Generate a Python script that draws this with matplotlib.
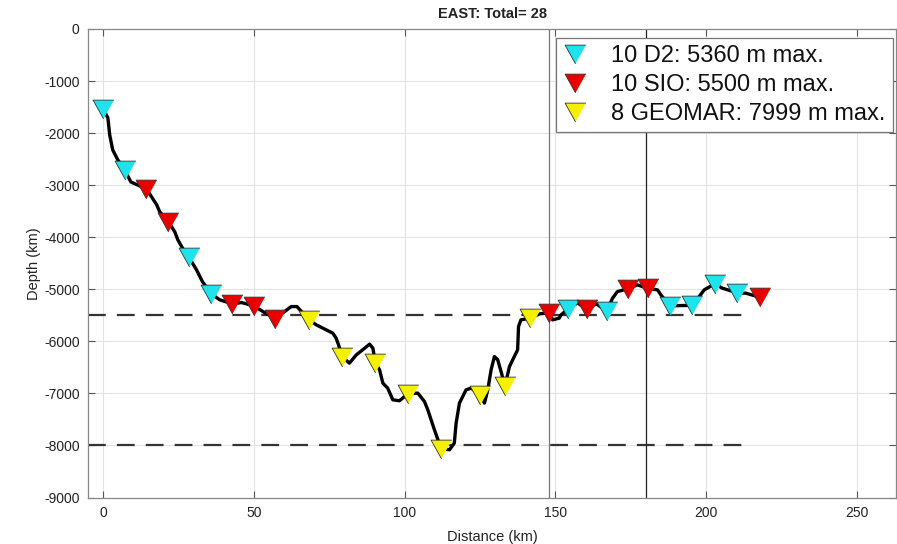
import matplotlib
matplotlib.use("Agg")
import matplotlib.pyplot as plt
from matplotlib.lines import Line2D

plt.rcParams['font.family'] = ['Liberation Sans', 'DejaVu Sans']
plt.rcParams['axes.unicode_minus'] = False

# Bathymetry profile (distance km, depth m)
prof_x = [0.2, 1.6, 2.2, 3.2, 4.9, 7.2, 9.2, 14.4, 17.8, 18.8, 21.5, 23.8, 24.8, 26.7, 28.4,
          31.0, 33.0, 35.9, 38.7, 42.9, 45.9, 49.9, 53.2, 57.1, 60.2, 62.4, 64.3, 68.3, 70.7,
          74.0, 76.2, 77.3, 78.1, 79.3, 81.7, 84.0, 86.1, 88.4, 89.5, 90.3, 91.7, 92.8, 94.4,
          96.1, 98.3, 101.1, 104.4, 106.6, 107.7, 108.8, 109.9, 112.1, 114.9, 116.5, 117.1,
          118.2, 120.4, 122.1, 125.1, 126.5, 127.6, 128.7, 129.8, 130.9, 132.0, 133.3, 134.8,
          136.4, 137.5, 137.8, 138.6, 141.7, 144.7, 148.0, 149.1, 151.3, 151.9, 154.3, 157.3,
          160.4, 163.6, 167.0, 169.0, 170.6, 174.0, 177.2, 180.6, 183.9, 185.0, 188.0, 191.6,
          195.5, 199.4, 202.9, 205.4, 210.4, 213.2, 217.9]
prof_y = [-1555, -1709, -2035, -2323, -2515, -2707, -2938, -3072, -3379, -3514, -3686, -3898,
          -4051, -4243, -4378, -4627, -4858, -5088, -5203, -5280, -5255, -5318, -5434, -5562,
          -5428, -5332, -5332, -5587, -5683, -5779, -5843, -5939, -6067, -6294, -6419, -6259,
          -6163, -6054, -6131, -6413, -6547, -6803, -6899, -7123, -7142, -7004, -6995, -7156,
          -7315, -7507, -7699, -8058, -8083, -7955, -7571, -7187, -6931, -6899, -7033, -7187,
          -6931, -6547, -6292, -6355, -6580, -6854, -6484, -6292, -6163, -5716, -5587, -5555,
          -5472, -5453, -5587, -5555, -5491, -5376, -5261, -5376, -5280, -5414, -5171, -5044,
          -4992, -4915, -4982, -5011, -5107, -5318, -5313, -5309, -5011, -4896, -4979, -5069,
          -5075, -5155]

# Instrument deployments
d2_x = [0.0, 7.2, 28.4, 35.9, 154.3, 167.0, 188.0, 195.5, 202.9, 210.4]
d2_y = [-1530, -2717, -4388, -5088, -5376, -5415, -5319, -5309, -4896, -5069]
sio_x = [14.4, 21.5, 42.9, 49.9, 57.1, 148.0, 160.4, 174.0, 180.6, 217.9]
sio_y = [-3067, -3700, -5290, -5320, -5563, -5453, -5376, -4992, -4983, -5156]
geo_x = [68.3, 79.3, 90.2, 101.1, 112.1, 125.0, 133.3, 141.7]
geo_y = [-5588, -6294, -6413, -7005, -8059, -7034, -6855, -5555]

labels = ['10 D2: 5360 m max.', '10 SIO: 5500 m max.', '8 GEOMAR: 7999 m max.']
title = 'EAST: Total= 28'
xticks = [0, 50, 100, 150, 200, 250]
yticks = [0, -1000, -2000, -3000, -4000, -5000, -6000, -7000, -8000, -9000]
depth_limits = [-5500, -8000]
limit_x = [-5, 215]
vlines_x = [148, 180]

fig = plt.figure(figsize=(8.97, 5.44), dpi=100)
ax = fig.add_axes([88/897, (544-497.5)/544, (896-88)/897, (497.5-29)/544])

ax.grid(True, color='#e3e3e3', linewidth=0.8)
ax.set_axisbelow(True)

for dl in depth_limits:
    ax.plot(limit_x, [dl, dl], color='#333333', linewidth=1.6, dashes=(8, 5), zorder=2)

ax.axvline(vlines_x[0], color='#777777', linewidth=0.9, zorder=2)
ax.axvline(vlines_x[1], color='#222222', linewidth=0.9, zorder=2)

ax.plot(prof_x, prof_y, color='black', linewidth=2.4, zorder=3, solid_joinstyle='round')

tri = [(0, -0.9), (-1, 0.9), (1, 0.9)]
ms = 15
cols = ['#1ee3ec', '#e80000', '#f5f000']
for xs, ys, c in [(d2_x, d2_y, cols[0]), (sio_x, sio_y, cols[1]), (geo_x, geo_y, cols[2])]:
    ax.plot(xs, ys, linestyle='none', marker=tri, markersize=ms, markerfacecolor=c,
            markeredgecolor='#333333', markeredgewidth=0.6, zorder=4)

ax.set_xlim(-5, 263)
ax.set_ylim(-9000, 0)
ax.set_xticks(xticks)
ax.set_yticks(yticks)
ax.tick_params(direction='in', length=5, width=0.8, color='#555555', labelsize=10,
               labelcolor='#222222', top=True, right=True, pad=6)
for s in ax.spines.values():
    s.set_color('#888888')
    s.set_linewidth(0.9)

ax.set_xlabel('Distance (km)', fontsize=10.5, color='#222222', labelpad=7)
ax.set_ylabel('Depth (km)', fontsize=10.5, color='#222222', labelpad=2)
ax.set_title(title, fontsize=10.5, fontweight='bold', color='#222222', pad=8)

handles = [Line2D([], [], linestyle='none', marker=tri, markersize=ms, markerfacecolor=c,
                  markeredgecolor='#333333', markeredgewidth=0.6) for c in cols]
leg = ax.legend(handles, labels, loc='upper left', bbox_to_anchor=(556/897, (544-38)/544),
                bbox_transform=fig.transFigure, borderaxespad=0, fontsize=17,
                fancybox=False, framealpha=1, edgecolor='#777777', handlelength=1.0,
                handletextpad=1.05, labelspacing=0.3, borderpad=0.3)
leg.get_frame().set_linewidth(0.9)
for t in leg.get_texts():
    t.set_color('#111111')

fig.savefig('out.png', dpi=100)
